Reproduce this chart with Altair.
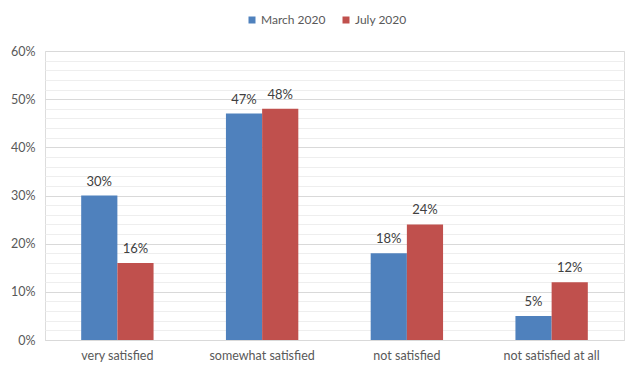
import altair as alt
import pandas as pd

categories = ["very satisfied", "somewhat satisfied", "not satisfied", "not satisfied at all"]
series = ["March 2020", "July 2020"]
march = [0.30, 0.47, 0.18, 0.05]
july = [0.16, 0.48, 0.24, 0.12]
colors = ["#4F81BD", "#C0504D"]
y_ticks = [0, 0.02, 0.04, 0.06, 0.08, 0.10, 0.12, 0.14, 0.16, 0.18, 0.20,
           0.22, 0.24, 0.26, 0.28, 0.30, 0.32, 0.34, 0.36, 0.38, 0.40,
           0.42, 0.44, 0.46, 0.48, 0.50, 0.52, 0.54, 0.56, 0.58, 0.60]

rows = []
for c, m, j in zip(categories, march, july):
    rows.append({"category": c, "series": series[0], "value": m})
    rows.append({"category": c, "series": series[1], "value": j})
df = pd.DataFrame(rows)

FONT = "Lato"

x = alt.X("category:N", sort=categories,
          scale=alt.Scale(paddingInner=0.5, paddingOuter=0.25),
          axis=alt.Axis(title=None, labelAngle=0, ticks=False, domain=True,
                        domainColor="#D9D9D9", labelColor="#595959",
                        labelFontSize=12.5, labelFont=FONT, labelPadding=9, grid=False))
xoff = alt.XOffset("series:N", sort=series, scale=alt.Scale(paddingInner=0, paddingOuter=0))
y = alt.Y("value:Q", scale=alt.Scale(domain=[0, 0.6]),
          axis=alt.Axis(title=None, values=y_ticks, ticks=False, domain=False,
                        labelExpr="round(datum.value*100) % 10 === 0 ? format(datum.value, '.0%') : ''",
                        gridColor={"condition": {"test": "round(datum.value*100) % 10 === 0", "value": "#D9D9D9"},
                                   "value": "#EEEEEE"},
                        labelColor="#595959", labelFontSize=12.5, labelFont=FONT, labelPadding=10))

bars = alt.Chart(df).mark_bar().encode(
    x=x, xOffset=xoff, y=y,
    color=alt.Color("series:N", sort=series,
                    scale=alt.Scale(domain=series, range=colors),
                    legend=alt.Legend(orient="none", direction="horizontal", legendX=201, legendY=-37,
                                      title=None, symbolType="square", symbolSize=49,
                                      symbolStrokeWidth=0, labelFontSize=12, labelColor="#595959",
                                      labelFont=FONT, labelOffset=3, columnPadding=14)),
)

labels = alt.Chart(df).mark_text(baseline="bottom", dy=-7, fontSize=13, color="#404040", font=FONT).encode(
    x=x, xOffset=xoff, y=y,
    text=alt.Text("value:Q", format=".0%"),
)

chart = alt.layer(bars, labels).properties(
    width=579, height=289,
    autosize=alt.AutoSizeParams(type="none"),
    padding={"left": 37, "top": 43, "right": 8, "bottom": 24},
).configure_view(stroke=None).configure(background="white")

chart.save("out.html", embed_options={"renderer": "svg", "actions": False})
